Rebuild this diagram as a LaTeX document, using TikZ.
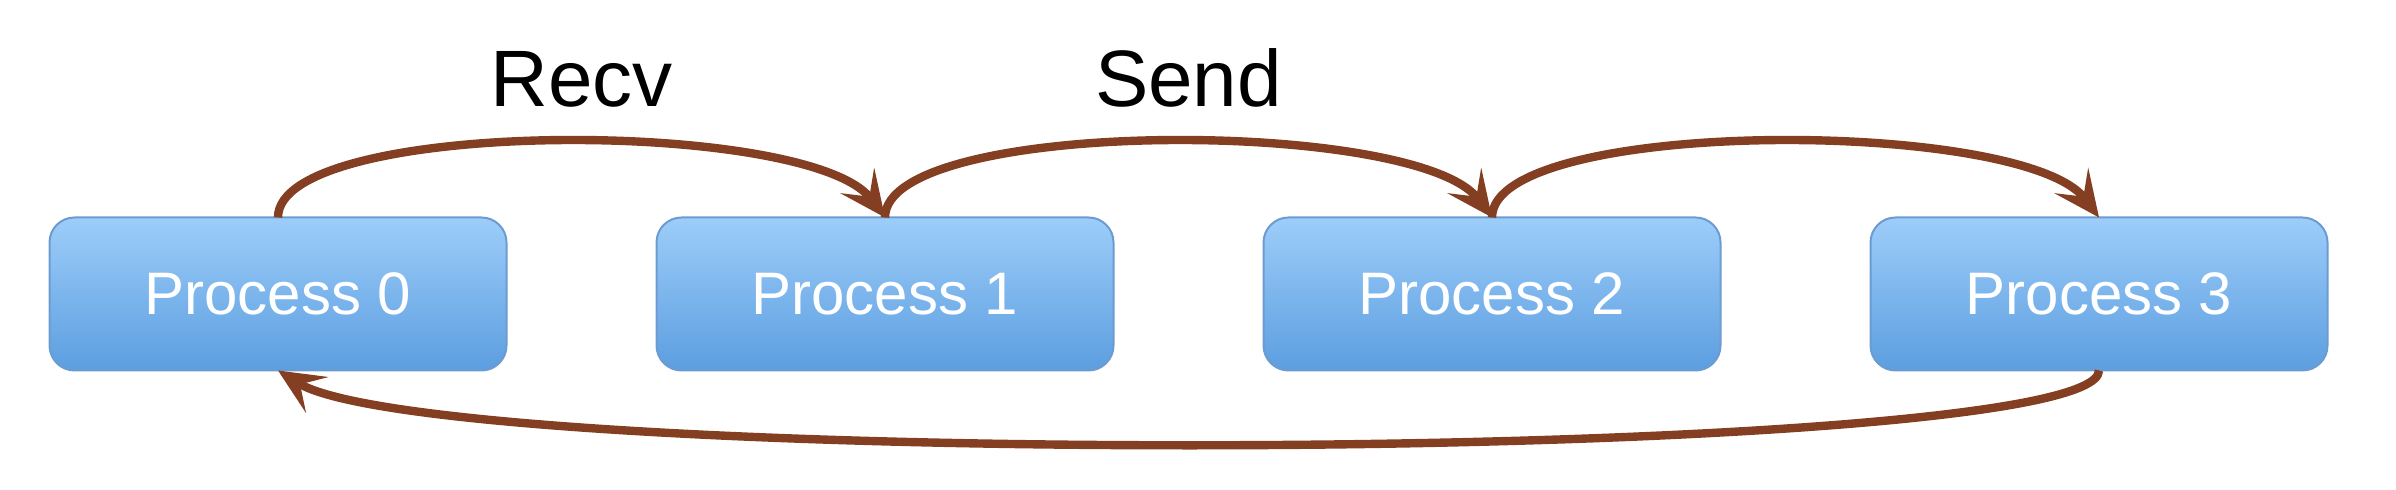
\documentclass[tikz,border=0pt]{standalone}
\usepackage{fontspec}
\setmainfont{Liberation Sans}
\usepackage{tikz}
\usetikzlibrary{arrows.meta}
\usetikzlibrary{positioning,calc}
\definecolor{boxtop}{HTML}{9DCDF9}
\definecolor{boxmid}{HTML}{8CC1F3}
\definecolor{boxbot}{HTML}{5C9EE0}
\definecolor{boxline}{HTML}{6C9BD2}
\definecolor{msgbrown}{HTML}{843F23}
\tikzstyle{ringarrow} = [line width=4.2pt, draw=msgbrown,
    -{Stealth[length=23pt, width=21pt, inset=10pt]}]
\tikzstyle{process} = [
    rectangle, rounded corners=12.5pt, minimum width=228.5pt, minimum height=76.5pt,
    outer sep=0pt, draw=boxline, line width=1pt,
    top color=boxtop, middle color=boxmid, bottom color=boxbot,
    text=white, font=\fontsize{30}{30}\selectfont]
\tikzstyle{label} = [font=\fontsize{40}{40}\selectfont, anchor=base, inner sep=0pt]

\begin{document}
\begin{tikzpicture}[x=0.5pt, y=0.5pt, node distance=75pt]
\useasboundingbox (0,0) rectangle (2396,490);

\node (proc0) [process] at (278,196) {Process 0};
\node (proc1) [process, right=of proc0] {Process 1};
\node (proc2) [process, right=of proc1] {Process 2};
\node (proc3) [process, right=of proc2] {Process 3};

\node (recv) [label] at ($(proc0.north)!0.5!(proc1.north) + (0,111)$) {Recv};
\node (send) [label] at ($(proc1.north)!0.5!(proc2.north) + (0,111)$) {Send};

\draw [ringarrow] (proc0.north) .. controls +(0,100) and +(-75,100) .. (proc1.north);
\draw [ringarrow] (proc1.north) .. controls +(0,100) and +(-75,100) .. (proc2.north);
\draw [ringarrow] (proc2.north) .. controls +(0,100) and +(-75,100) .. (proc3.north);
\draw [ringarrow] (proc3.south) .. controls +(0,-95) and +(160,-100) .. (proc0.south);
\end{tikzpicture}
\end{document}
